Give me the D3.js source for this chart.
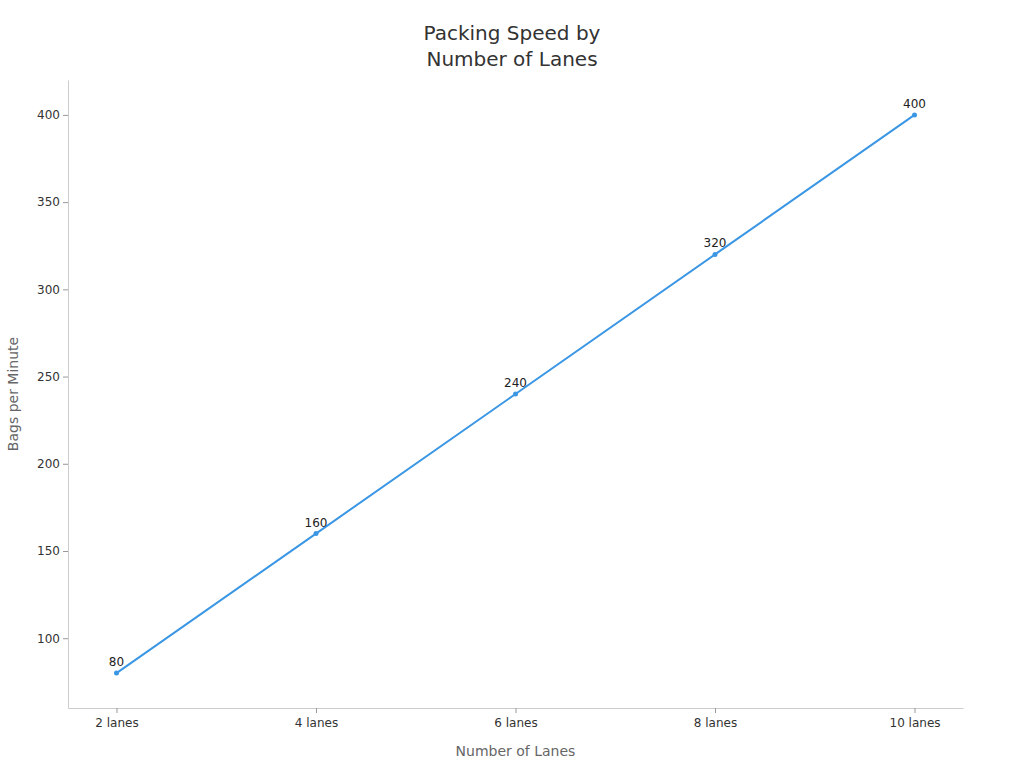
<!DOCTYPE html>
<html>
<head>
<meta charset="utf-8">
<script src="https://cdn.jsdelivr.net/npm/d3@7"></script>
<style>
  body { margin: 0; background: #fff; }
  text { font-family: "DejaVu Sans", sans-serif; }
</style>
</head>
<body>
<div class="d3"></div>
<script>
const lanes = ["2 lanes", "4 lanes", "6 lanes", "8 lanes", "10 lanes"];
const bagsPerMinute = [80, 160, 240, 320, 400];
const yTicks = [100, 150, 200, 250, 300, 350, 400];

function main() {
    const width = 1024, height = 768;
    const margin = {top: 80, right: 61, bottom: 60, left: 68};
    const innerW = width - margin.left - margin.right;
    const innerH = height - margin.top - margin.bottom;

    const svg = d3.select(".d3")
        .append("svg")
        .attr("width", width)
        .attr("height", height);

    svg.append("text")
        .attr("x", 512).attr("y", 40)
        .attr("text-anchor", "middle")
        .attr("font-size", 20).attr("fill", "#333")
        .text("Packing Speed by");
    svg.append("text")
        .attr("x", 512).attr("y", 66)
        .attr("text-anchor", "middle")
        .attr("font-size", 20).attr("fill", "#333")
        .text("Number of Lanes");

    const g = svg.append("g")
        .attr("transform", "translate(" + margin.left + "," + margin.top + ")");

    const x = d3.scalePoint().domain(lanes).range([0, innerW]).padding(0.243);
    const y = d3.scaleLinear().domain([60, 420]).range([innerH, 0]);

    const yAxis = g.append("g")
        .call(d3.axisLeft(y).tickValues(yTicks).tickSizeInner(5).tickSizeOuter(0).tickPadding(3));
    const xAxis = g.append("g")
        .attr("transform", "translate(0," + innerH + ")")
        .call(d3.axisBottom(x).tickSizeInner(5).tickSizeOuter(0).tickPadding(5));

    [xAxis, yAxis].forEach(a => {
        a.select(".domain").attr("stroke", "#ccc");
        a.selectAll(".tick line").attr("stroke", "#999");
        a.selectAll(".tick text").attr("fill", "#333").attr("font-size", 12)
            .attr("font-family", "DejaVu Sans, sans-serif");
    });

    svg.append("text")
        .attr("x", margin.left + innerW / 2).attr("y", 756)
        .attr("text-anchor", "middle")
        .attr("font-size", 14).attr("fill", "#666")
        .text("Number of Lanes");
    svg.append("text")
        .attr("transform", "translate(18," + (margin.top + innerH / 2) + ") rotate(-90)")
        .attr("text-anchor", "middle")
        .attr("font-size", 14).attr("fill", "#666")
        .text("Bags per Minute");

    const data = lanes.map((l, i) => ({lane: l, value: bagsPerMinute[i]}));
    const line = d3.line().x(d => x(d.lane)).y(d => y(d.value));

    g.append("path")
        .datum(data)
        .attr("fill", "none")
        .attr("stroke", "#3b96e4")
        .attr("stroke-width", 2)
        .attr("d", line);

    g.selectAll("circle")
        .data(data)
        .enter().append("circle")
        .attr("cx", d => x(d.lane))
        .attr("cy", d => y(d.value))
        .attr("r", 2.5)
        .attr("fill", "#3b96e4");

    g.selectAll(".lbl")
        .data(data)
        .enter().append("text")
        .attr("x", d => x(d.lane))
        .attr("y", d => y(d.value) - 7)
        .attr("text-anchor", "middle")
        .attr("font-size", 12).attr("fill", "#222")
        .text(d => d.value);
}
main();
</script>
</body>
</html>
